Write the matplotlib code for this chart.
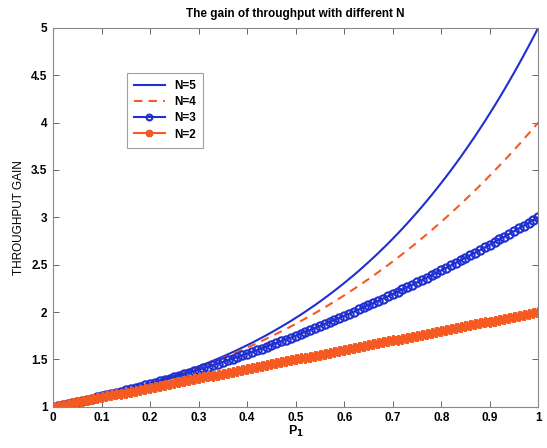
import matplotlib
matplotlib.use("Agg")
import matplotlib.pyplot as plt

plt.rcParams['font.family'] = ['Liberation Sans', 'DejaVu Sans']

p1 = [round(i * 0.01, 2) for i in range(101)]

gain_n5 = [1.000, 1.010, 1.020, 1.031, 1.042, 1.053, 1.064, 1.075, 1.087, 1.099,
           1.111, 1.124, 1.136, 1.149, 1.163, 1.176, 1.190, 1.205, 1.219, 1.234,
           1.250, 1.265, 1.281, 1.298, 1.315, 1.332, 1.350, 1.368, 1.386, 1.406,
           1.425, 1.445, 1.466, 1.487, 1.508, 1.530, 1.553, 1.576, 1.600, 1.625,
           1.650, 1.675, 1.702, 1.729, 1.756, 1.785, 1.814, 1.844, 1.874, 1.905,
           1.938, 1.970, 2.004, 2.039, 2.074, 2.110, 2.148, 2.186, 2.225, 2.265,
           2.306, 2.348, 2.390, 2.434, 2.480, 2.526, 2.573, 2.621, 2.671, 2.721,
           2.773, 2.826, 2.880, 2.936, 2.993, 3.051, 3.110, 3.171, 3.233, 3.297,
           3.362, 3.428, 3.496, 3.565, 3.636, 3.709, 3.783, 3.858, 3.936, 4.014,
           4.095, 4.177, 4.261, 4.347, 4.435, 4.524, 4.616, 4.709, 4.804, 4.901,
           5.000]

gain_n4 = [1.000, 1.010, 1.020, 1.031, 1.042, 1.053, 1.064, 1.075, 1.087, 1.099,
           1.111, 1.123, 1.136, 1.149, 1.162, 1.176, 1.190, 1.204, 1.218, 1.233,
           1.248, 1.263, 1.279, 1.295, 1.311, 1.328, 1.345, 1.363, 1.380, 1.398,
           1.417, 1.436, 1.455, 1.475, 1.495, 1.515, 1.536, 1.558, 1.579, 1.601,
           1.624, 1.647, 1.670, 1.694, 1.719, 1.744, 1.769, 1.795, 1.821, 1.848,
           1.875, 1.903, 1.931, 1.960, 1.989, 2.019, 2.049, 2.080, 2.112, 2.143,
           2.176, 2.209, 2.243, 2.277, 2.312, 2.347, 2.383, 2.420, 2.457, 2.495,
           2.533, 2.572, 2.612, 2.652, 2.693, 2.734, 2.777, 2.819, 2.863, 2.907,
           2.952, 2.998, 3.044, 3.091, 3.138, 3.187, 3.236, 3.285, 3.336, 3.387,
           3.439, 3.492, 3.545, 3.599, 3.654, 3.710, 3.766, 3.824, 3.882, 3.940,
           4.000]

gain_n3 = [1.000, 1.010, 1.020, 1.031, 1.042, 1.053, 1.064, 1.075, 1.086, 1.098,
           1.110, 1.122, 1.134, 1.147, 1.160, 1.173, 1.186, 1.199, 1.212, 1.226,
           1.240, 1.254, 1.268, 1.283, 1.298, 1.313, 1.328, 1.343, 1.358, 1.374,
           1.390, 1.406, 1.422, 1.439, 1.456, 1.473, 1.490, 1.507, 1.524, 1.542,
           1.560, 1.578, 1.596, 1.615, 1.634, 1.653, 1.672, 1.691, 1.710, 1.730,
           1.750, 1.770, 1.790, 1.811, 1.832, 1.853, 1.874, 1.895, 1.916, 1.938,
           1.960, 1.982, 2.004, 2.027, 2.050, 2.073, 2.096, 2.119, 2.142, 2.166,
           2.190, 2.214, 2.238, 2.263, 2.288, 2.313, 2.338, 2.363, 2.388, 2.414,
           2.440, 2.466, 2.492, 2.519, 2.546, 2.573, 2.600, 2.627, 2.654, 2.682,
           2.710, 2.738, 2.766, 2.795, 2.824, 2.853, 2.882, 2.911, 2.940, 2.970,
           3.000]

gain_n2 = [1.00, 1.01, 1.02, 1.03, 1.04, 1.05, 1.06, 1.07, 1.08, 1.09,
           1.10, 1.11, 1.12, 1.13, 1.14, 1.15, 1.16, 1.17, 1.18, 1.19,
           1.20, 1.21, 1.22, 1.23, 1.24, 1.25, 1.26, 1.27, 1.28, 1.29,
           1.30, 1.31, 1.32, 1.33, 1.34, 1.35, 1.36, 1.37, 1.38, 1.39,
           1.40, 1.41, 1.42, 1.43, 1.44, 1.45, 1.46, 1.47, 1.48, 1.49,
           1.50, 1.51, 1.52, 1.53, 1.54, 1.55, 1.56, 1.57, 1.58, 1.59,
           1.60, 1.61, 1.62, 1.63, 1.64, 1.65, 1.66, 1.67, 1.68, 1.69,
           1.70, 1.71, 1.72, 1.73, 1.74, 1.75, 1.76, 1.77, 1.78, 1.79,
           1.80, 1.81, 1.82, 1.83, 1.84, 1.85, 1.86, 1.87, 1.88, 1.89,
           1.90, 1.91, 1.92, 1.93, 1.94, 1.95, 1.96, 1.97, 1.98, 1.99,
           2.00]

x_ticks = [0, 0.1, 0.2, 0.3, 0.4, 0.5, 0.6, 0.7, 0.8, 0.9, 1]
x_tick_labels = ['0', '0.1', '0.2', '0.3', '0.4', '0.5', '0.6', '0.7', '0.8', '0.9', '1']
y_ticks = [1, 1.5, 2, 2.5, 3, 3.5, 4, 4.5, 5]
y_tick_labels = ['1', '1.5', '2', '2.5', '3', '3.5', '4', '4.5', '5']

blue = '#1f2fd0'
orange = '#f55a23'

fig = plt.figure(figsize=(5.47, 4.48), dpi=100)
ax = fig.add_axes([0.097, 0.092, 0.887, 0.846])

ax.plot(p1, gain_n5, color=blue, lw=1.5, label='N=5')
ax.plot(p1, gain_n4, color=orange, lw=1.5, ls=(0, (4, 3)), label='N=4')
ax.plot(p1, gain_n3, color=blue, lw=1.5, marker='o', ms=6, mfc='none', mew=1.5, label='N=3')
ax.plot(p1, gain_n2, color=orange, lw=1.5, marker=(8, 2, 0), ms=7.5, mew=1.6, label='N=2')

ax.set_xlim(0, 1)
ax.set_ylim(1, 5)
ax.set_xticks(x_ticks)
ax.set_xticklabels(x_tick_labels)
ax.set_yticks(y_ticks)
ax.set_yticklabels(y_tick_labels)
ax.tick_params(direction='in', top=True, right=True, length=4, width=0.7,
               color='#666666', labelsize=8.5, pad=4)
for lbl in ax.get_xticklabels() + ax.get_yticklabels():
    lbl.set_fontweight('bold')
for s in ax.spines.values():
    s.set_color('#888888')
    s.set_linewidth(0.8)

ax.set_title('The gain of throughput with different N', fontsize=8.5, fontweight='bold', pad=8)
ax.set_xlabel('P$_\\mathbf{1}$', fontsize=9, fontweight='bold', labelpad=0)
ax.set_ylabel('THROUGHPUT GAIN', fontsize=8.5, labelpad=4)

leg = ax.legend(loc='upper left', bbox_to_anchor=(0.14, 0.896), fontsize=8.5,
                frameon=True, fancybox=False, edgecolor='#888888',
                handlelength=2.6, borderpad=0.6, labelspacing=0.35, markerscale=0.7)
leg.get_frame().set_linewidth(0.8)
for t in leg.get_texts():
    t.set_fontweight('bold')

fig.savefig('out.png', dpi=100)
